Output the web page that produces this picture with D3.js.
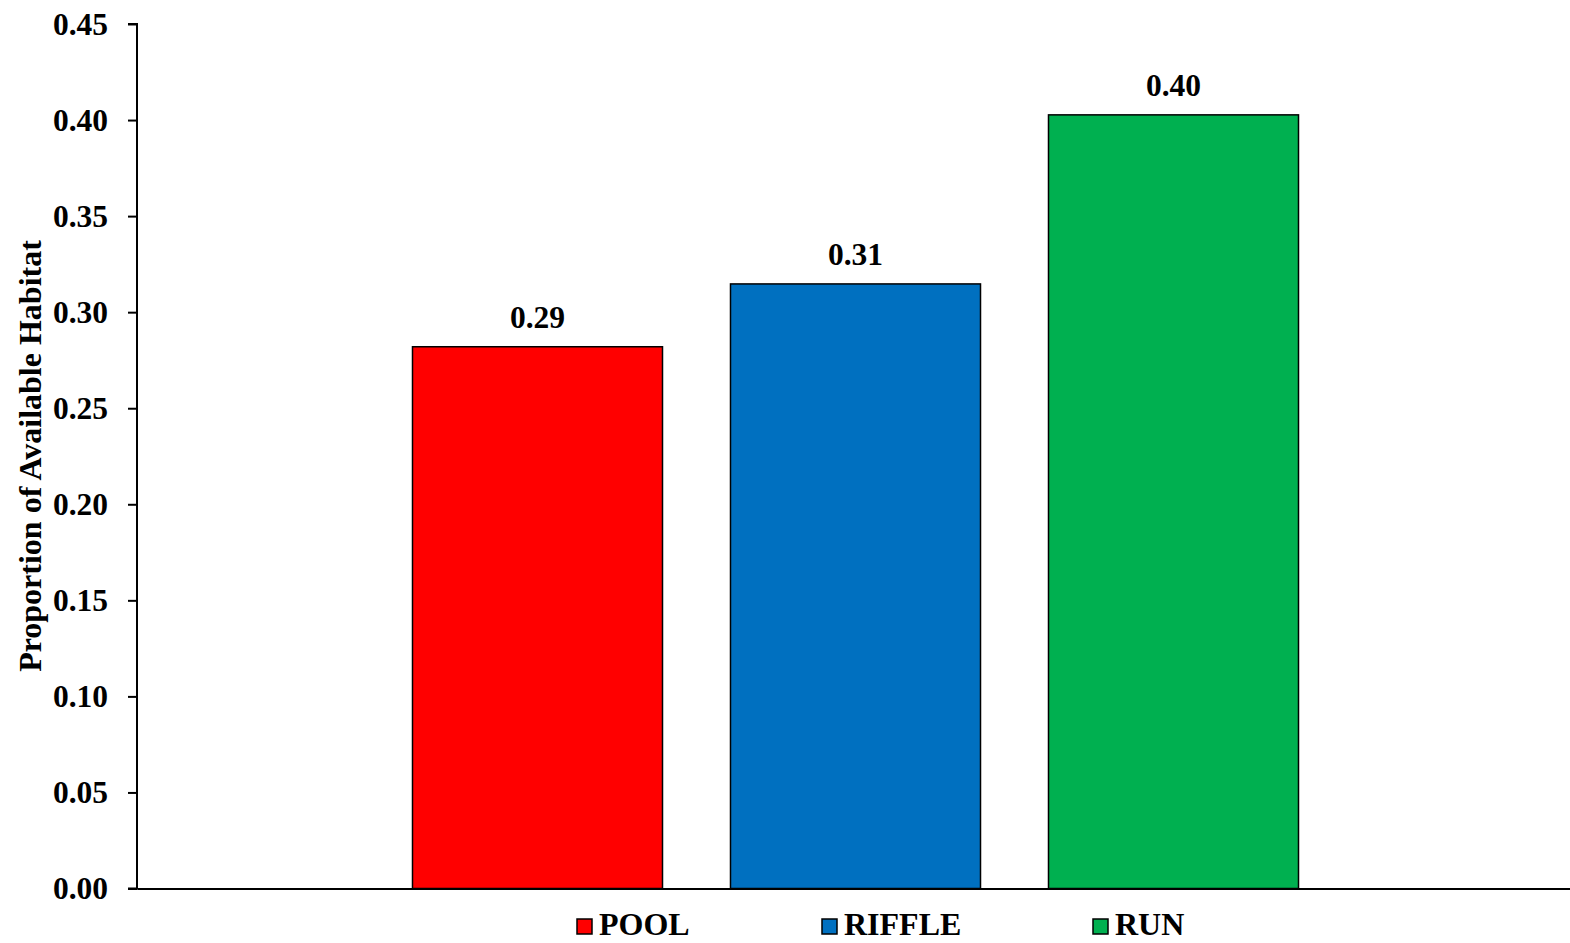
<!DOCTYPE html>
<html>
<head>
<meta charset="utf-8">
<script src="https://cdn.jsdelivr.net/npm/d3@7"></script>
<style>
  html, body { margin: 0; padding: 0; background: #fff; overflow: hidden; }
  svg { display: block; }
  text { font-family: "Liberation Serif", "Times New Roman", serif; font-weight: bold; }
</style>
</head>
<body>
<svg id="chart" width="1570" height="943"></svg>
<script>
const categories = ["POOL", "RIFFLE", "RUN"];
const values = [0.282, 0.3147, 0.4027];
const valueLabels = ["0.29", "0.31", "0.40"];
const colors = ["#FF0000", "#0070C0", "#00B050"];
const yTicks = [0, 0.05, 0.10, 0.15, 0.20, 0.25, 0.30, 0.35, 0.40, 0.45];
const yTitle = "Proportion of Available Habitat";

(function () {
const pLeft = 137, pRight = 1570, pTop = 24, pBottom = 888.5;
const svg = d3.select("#chart");

const y = d3.scaleLinear().domain([0, 0.45]).range([pBottom, pTop]);

// one category group holding three series bars
const groupW = 954;
const cx = (pLeft + pRight) / 2 + 2;
const x = d3.scaleBand().domain(categories)
  .range([cx - groupW / 2, cx + groupW / 2])
  .paddingInner(0.2138).paddingOuter(0.1069);

// bars
svg.append("g").selectAll("rect").data(categories).join("rect")
  .attr("x", d => x(d))
  .attr("width", x.bandwidth())
  .attr("y", (d, i) => y(values[i]))
  .attr("height", (d, i) => y(0) - y(values[i]))
  .attr("fill", (d, i) => colors[i])
  .attr("stroke", "#000")
  .attr("stroke-width", 1.5);

// value labels
svg.append("g").selectAll("text").data(categories).join("text")
  .attr("x", d => x(d) + x.bandwidth() / 2)
  .attr("y", (d, i) => y(values[i]) - 19)
  .attr("text-anchor", "middle")
  .attr("font-size", 31.5)
  .attr("fill", "#000")
  .text((d, i) => valueLabels[i]);

// y axis
const yAxis = d3.axisLeft(y).tickValues(yTicks).tickFormat(d3.format(".2f")).tickSize(9).tickPadding(20);
const gy = svg.append("g").attr("transform", `translate(${pLeft},0)`).call(yAxis);
gy.select(".domain").attr("stroke", "#000").attr("stroke-width", 2).attr("d", `M-9,${pTop}H0V${pBottom}H-9`);
gy.selectAll(".tick line").attr("stroke", "#000").attr("stroke-width", 2);
gy.selectAll(".tick text").attr("font-size", 31.5).attr("font-family", "Liberation Serif").attr("font-weight", "bold").attr("fill", "#000").attr("dy", "0.32em");

// x axis baseline
const xAxisScale = d3.scaleLinear().domain([0, 1]).range([pLeft, pRight]);
const gx = svg.append("g").attr("transform", `translate(0,${pBottom})`).call(d3.axisBottom(xAxisScale).tickValues([]).tickSizeOuter(0));
gx.select(".domain").attr("stroke", "#000").attr("stroke-width", 2);

// y title
svg.append("text")
  .attr("transform", `translate(41,456) rotate(-90)`)
  .attr("text-anchor", "middle")
  .attr("font-size", 32)
  .attr("fill", "#000")
  .text(yTitle);

// legend
const legendX = [577, 822, 1093];
const lg = svg.append("g").selectAll("g").data(categories).join("g")
  .attr("transform", (d, i) => `translate(${legendX[i]},919)`);
lg.append("rect").attr("width", 15).attr("height", 15)
  .attr("fill", (d, i) => colors[i]).attr("stroke", "#000").attr("stroke-width", 1.5);
lg.append("text").attr("x", 22).attr("y", 16)
  .attr("font-size", 32).attr("fill", "#000").text(d => d);
})();
</script>
</body>
</html>
